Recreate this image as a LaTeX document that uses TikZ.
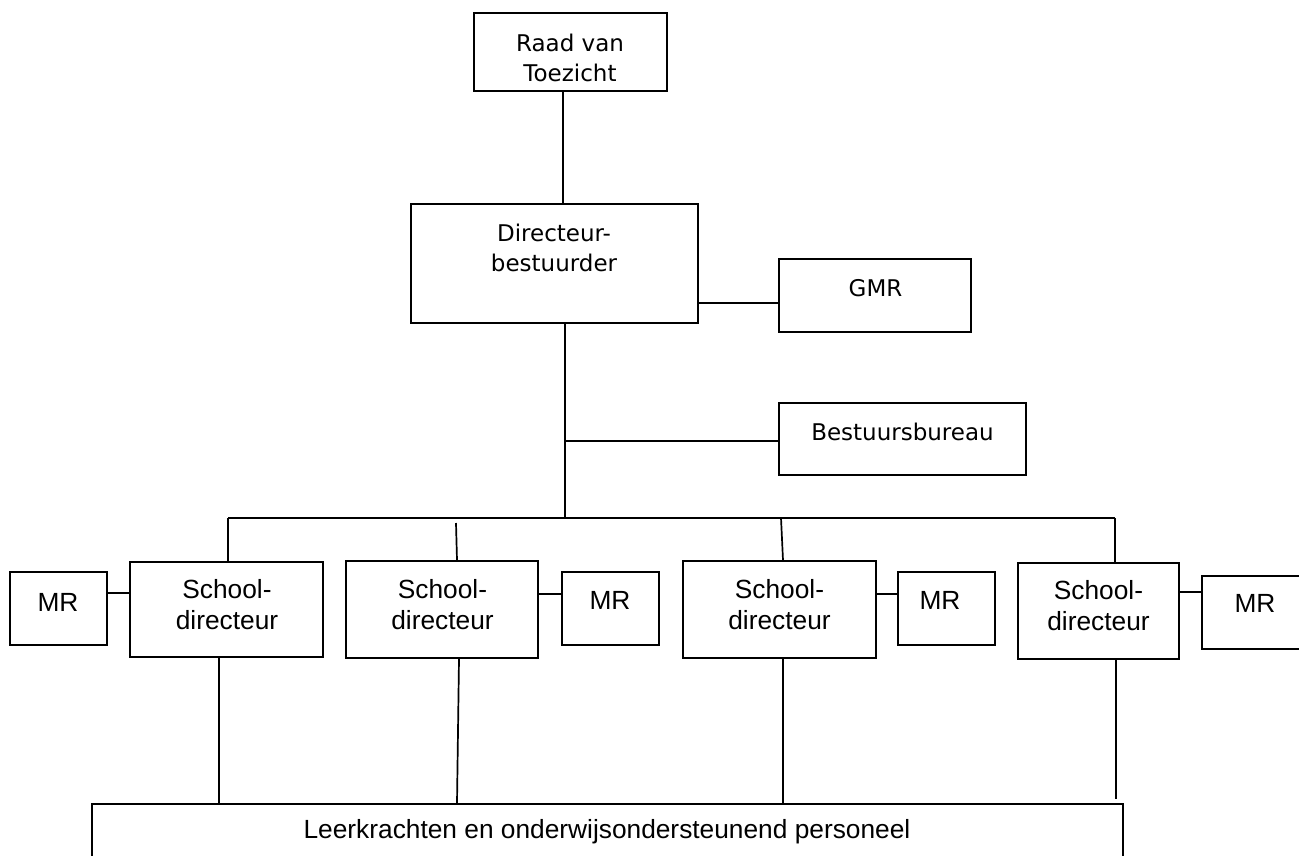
\documentclass[tikz,border=0pt]{standalone}
\usepackage{fontspec}
\newfontfamily\boardfamily{DejaVu Sans}
\newfontfamily\schoolfamily{Liberation Sans}
\newcommand{\boardfont}{\boardfamily\fontsize{23}{30}\selectfont}
\newcommand{\schoolfont}{\schoolfamily\fontsize{26.3}{31}\selectfont}
\begin{document}
\begin{tikzpicture}[x=1pt,y=-1pt,
        box/.style={draw,line width=1.9pt,inner sep=0pt},
        boardtext/.style={font=\boardfont,align=center,inner sep=0pt},
        schooltext/.style={font=\schoolfont,align=center,inner sep=0pt},
        link/.style={line width=1.7pt}]
        \useasboundingbox (0,0) rectangle (1299,855);
        \clip (0,0) rectangle (1299,855);

        % bestuur
        \node[box,minimum width=193pt,minimum height=78pt] (raad) at (570.5,52) {};
        \node[boardtext] (raadtext) at (570,57.5) {Raad van\\Toezicht};
        \node[box,minimum width=287pt,minimum height=119pt] (dir) at (554.5,263.5) {};
        \node[boardtext] (dirtext) at (554,247.5) {Directeur-\\bestuurder};
        \node[box,minimum width=192pt,minimum height=73pt] (gmr) at (875,295.5) {};
        \node[boardtext] (gmrtext) at (875.5,288) {GMR};
        \node[box,minimum width=247pt,minimum height=72pt] (bur) at (902.5,439) {};
        \node[boardtext] (burtext) at (902.5,432) {Bestuursbureau};

        \draw[link] ([xshift=-7.5pt]raad.south) -- ([xshift=8.5pt]dir.north);
        \draw[link] ([yshift=-39.5pt]dir.east) -- ([yshift=-7.5pt]gmr.west);
        \coordinate (trunk) at (565,518);
        \coordinate (branch) at (565,441);
        \draw[link] ([xshift=10.5pt]dir.south) -- (trunk);
        \draw[link] (branch) -- (branch -| bur.west);

        % scholen
        \node[box,minimum width=97pt,minimum height=73pt] (mr1) at (58.5,608.5) {};
        \node[schooltext] (mr1text) at (58,602) {MR};
        \node[box,minimum width=193pt,minimum height=95pt] (sd1) at (226.5,609.5) {};
        \node[schooltext] (sd1text) at (227,605) {School-\\directeur};
        \node[box,minimum width=192pt,minimum height=97pt] (sd2) at (442,609.5) {};
        \node[schooltext] (sd2text) at (442.5,605) {School-\\directeur};
        \node[box,minimum width=97pt,minimum height=73pt] (mr2) at (610.5,608.5) {};
        \node[schooltext] (mr2text) at (610,600) {MR};
        \node[box,minimum width=193pt,minimum height=97pt] (sd3) at (779.5,609.5) {};
        \node[schooltext] (sd3text) at (779.5,605) {School-\\directeur};
        \node[box,minimum width=97pt,minimum height=73pt] (mr3) at (946.5,608.5) {};
        \node[schooltext] (mr3text) at (940,600) {MR};
        \node[box,minimum width=161pt,minimum height=96pt] (sd4) at (1098.5,611) {};
        \node[schooltext] (sd4text) at (1098.5,606) {School-\\directeur};
        \node[box,minimum width=100pt,minimum height=73pt] (mr4) at (1252,612.5) {};
        \node[schooltext] (mr4text) at (1255,603) {MR};

        \coordinate (busleft) at (228,518);
        \coordinate (busright) at (1115,518);
        \coordinate (drop2) at (456,523);
        \coordinate (drop3) at (781,518);
        \draw[link] (busleft) -- (busright);
        \draw[link] (busleft) -- (busleft |- sd1.north);
        \draw[link] (drop2) -- ([xshift=15pt]sd2.north);
        \draw[link] (drop3) -- ([xshift=3.5pt]sd3.north);
        \draw[link] (busright) -- (busright |- sd4.north);

        \draw[link] ([yshift=15.5pt]mr1.east) -- ([yshift=16.5pt]sd1.west);
        \draw[link] ([yshift=15.5pt]sd2.east) -- ([yshift=14.5pt]mr2.west);
        \draw[link] ([yshift=15.5pt]sd3.east) -- ([yshift=14.5pt]mr3.west);
        \draw[link] ([yshift=19pt]sd4.east) -- ([yshift=20.5pt]mr4.west);

        % personeel
        \node[box,minimum width=1031pt,minimum height=76pt] (staff) at (607.5,842) {};
        \node[schooltext] (stafftext) at (607,832) {Leerkrachten en onderwijsondersteunend personeel};

        \draw[link] ([xshift=-7.5pt]sd1.south) -- ([xshift=-7.5pt]sd1.south |- staff.north);
        \draw[link] ([xshift=17pt]sd2.south) -- ([xshift=-150.5pt]staff.north);
        \draw[link] ([xshift=3.5pt]sd3.south) -- ([xshift=3.5pt]sd3.south |- staff.north);
        \draw[link] ([xshift=17.5pt]sd4.south) -- ([xshift=17.5pt,yshift=4pt]sd4.south |- staff.north);
\end{tikzpicture}
\end{document}
